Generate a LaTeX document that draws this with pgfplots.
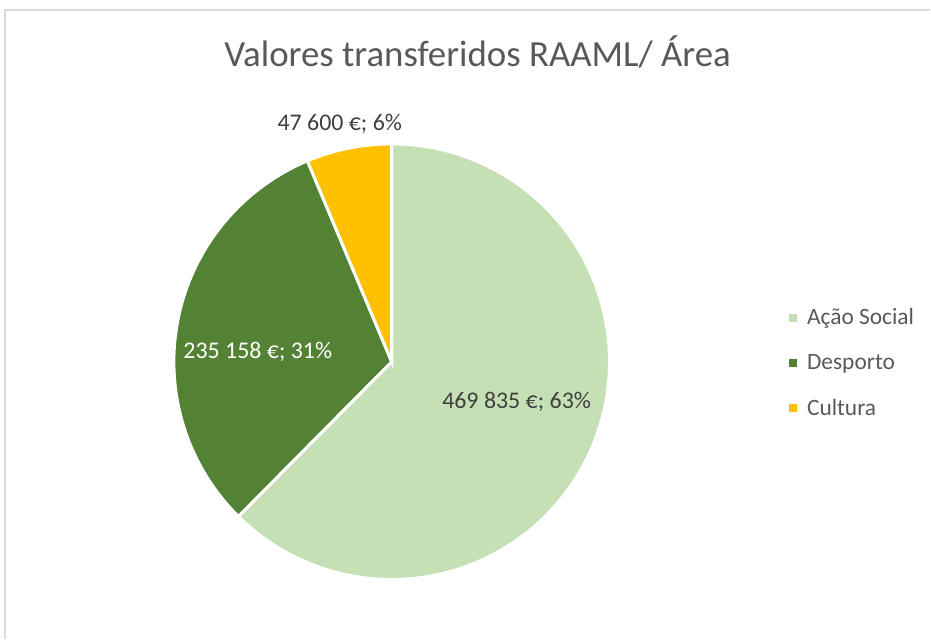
\documentclass[border=0pt]{standalone}
\usepackage{pgfplots}
\pgfplotsset{compat=1.18}
\usepackage{fontspec}
\setmainfont{Carlito}
\definecolor{cAcao}{HTML}{C5E0B4}
\definecolor{cDesp}{HTML}{548235}
\definecolor{cCult}{HTML}{FFC000}
\definecolor{txtgray}{HTML}{595959}
\definecolor{lblgray}{HTML}{404040}
\definecolor{bordergray}{HTML}{D9D9D9}
\begin{document}
\begin{tikzpicture}
% data in thousands of euros
\def\va{469.835}
\def\vb{235.158}
\def\vc{47.600}
\pgfmathsetmacro{\tot}{\va+\vb+\vc}
\pgfmathsetmacro{\ac}{360*(\vc/\tot)}
\pgfmathsetmacro{\ab}{360*(\vb/\tot)}
% angles (counterclockwise, start at top, slices go clockwise)
\pgfmathsetmacro{\cA}{90}
\pgfmathsetmacro{\cB}{90+\ac}
\pgfmathsetmacro{\dB}{90+\ac+\ab}
\pgfmathsetmacro{\eB}{450}
\def\cx{392}
\def\cy{278}
\def\R{218}
\begin{axis}[
  width=931bp, height=640bp, scale only axis,
  xmin=0, xmax=931, ymin=0, ymax=640,
  hide axis, clip=false,
  legend style={at={(axis cs:789,277)}, anchor=west, draw=none, fill=none,
    font=\fontsize{23.5}{27}\selectfont, text=txtgray, row sep=24bp,
    inner sep=0pt, cells={anchor=west}},
  legend image code/.code={\fill[#1,draw=none] (0bp,-4bp) rectangle (8bp,4bp); \path (15bp,0bp);},
]
\addplot[fill=cAcao, draw=white, line width=3bp, domain=\dB:\eB, samples=150, variable=\t]
  ({\cx+\R*cos(\t)},{\cy+\R*sin(\t)}) -- (axis cs:\cx,\cy) -- cycle;
\addlegendentry{Ação Social}
\addplot[fill=cDesp, draw=white, line width=3bp, domain=\cB:\dB, samples=80, variable=\t]
  ({\cx+\R*cos(\t)},{\cy+\R*sin(\t)}) -- (axis cs:\cx,\cy) -- cycle;
\addlegendentry{Desporto}
\addplot[fill=cCult, draw=white, line width=3bp, domain=\cA:\cB, samples=30, variable=\t]
  ({\cx+\R*cos(\t)},{\cy+\R*sin(\t)}) -- (axis cs:\cx,\cy) -- cycle;
\addlegendentry{Cultura}
% frame (chart area border) and bounding box
\addplot[draw=none, forget plot] coordinates {(0,0) (931,640)};
\addplot[bordergray, line width=1.5bp, forget plot] coordinates {(5,0) (5,630) (931,630)};
% title and data labels
\node[font=\fontsize{37}{44}\selectfont, text=txtgray, anchor=base] at (axis cs:478,573) {Valores transferidos RAAML/ Área};
\node[font=\fontsize{24}{28}\selectfont, text=lblgray] at (axis cs:340,516) {47 600 €; 6\%};
\node[font=\fontsize{24}{28}\selectfont, text=white] at (axis cs:258,288) {235 158 €; 31\%};
\node[font=\fontsize{24}{28}\selectfont, text=lblgray] at (axis cs:517,238) {469 835 €; 63\%};
\end{axis}
\end{tikzpicture}
\end{document}
